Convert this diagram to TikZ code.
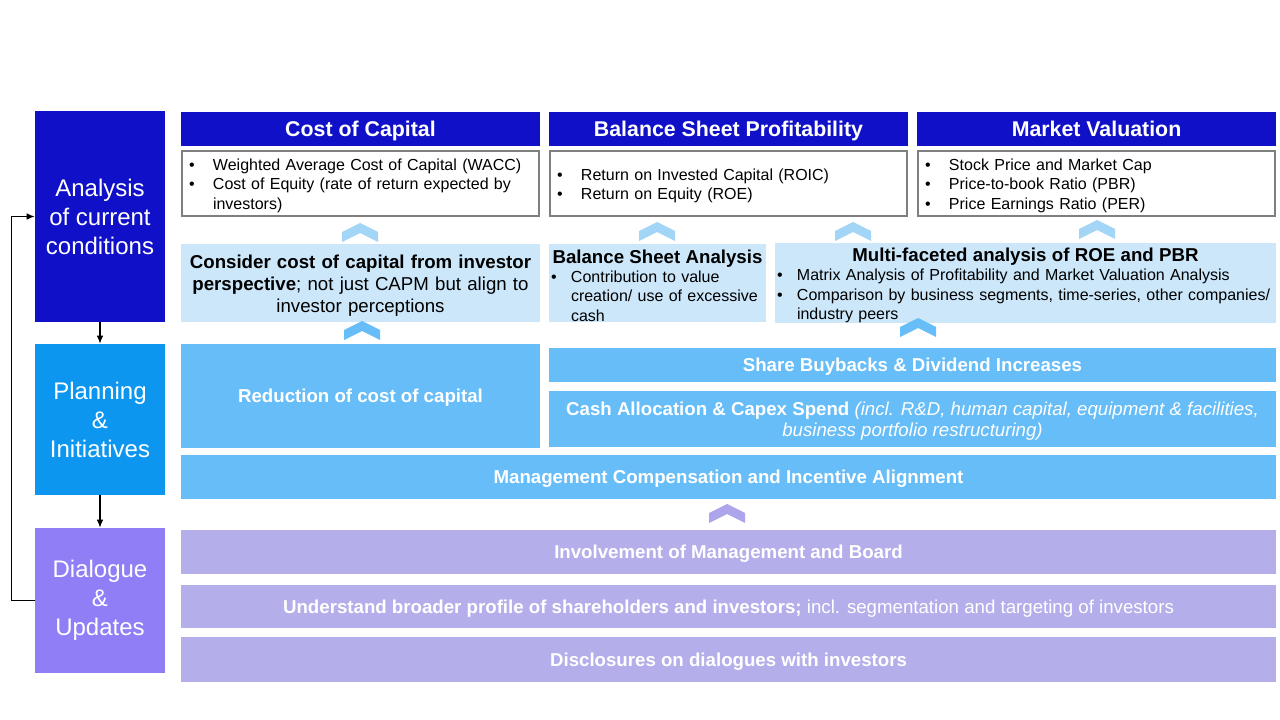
\documentclass[tikz,border=0pt]{standalone}
\usepackage{fontspec}
\setmainfont{Liberation Sans}
\usetikzlibrary{arrows.meta,positioning}
\definecolor{DeepBlue}{HTML}{1010C8}
\definecolor{Azure}{HTML}{0C96EF}
\definecolor{Violet}{HTML}{8F7EF5}
\definecolor{PaleBlue}{HTML}{CCE7FA}
\definecolor{MidBlue}{HTML}{66BDF8}
\definecolor{Lilac}{HTML}{B4AFEA}
\definecolor{ChevBlue}{HTML}{A3D5F7}
\definecolor{ChevLilac}{HTML}{ACA5EC}
\definecolor{Frame}{HTML}{7F7F7F}
\newlength{\bulind}
\newcommand{\bl}[1]{\makebox[\bulind][l]{\textbullet}\mbox{#1}}
\newcommand{\cl}[1]{\hspace*{\bulind}\mbox{#1}}
\newcommand{\upchev}[3]{%
  \fill[#3] (#1-18,#2+9) -- (#1,#2) -- (#1+18,#2+9) -- (#1+18,#2+19)
    -- (#1,#2+10) -- (#1-18,#2+19) -- cycle;
}

\begin{document}
\begin{tikzpicture}[x=0.75pt,y=-0.75pt,
    sz/.style 2 args={minimum width=#1*0.75pt,minimum height=#2*0.75pt},
    stage/.style={fill=#1,text=white,align=center,inner sep=0pt,
      font=\fontsize{18}{21.75}\selectfont},
    head/.style={fill=DeepBlue,text=white,inner sep=0pt,text depth=0pt,
      font=\fontsize{16}{19}\selectfont\bfseries},
    metric/.style={draw=Frame,line width=1.9pt,fill=white,align=left,
      inner ysep=0pt,inner xsep=5.25pt,text width=257.25pt,
      font=\fontsize{12}{14.6}\selectfont,
      execute at begin node={\rule{0pt}{12pt}\setlength{\bulind}{18pt}}},
    probe/.style={fill=PaleBlue,align=left,inner ysep=0pt,inner xsep=1.5pt,
      font=\fontsize{12}{14.6}\selectfont,
      execute at begin node={\rule{0pt}{14pt}\setlength{\bulind}{15pt}}},
    bar/.style={fill=#1,text=white,align=center,inner sep=0pt,text depth=0pt,
      font=\fontsize{14}{15.75}\selectfont\bfseries},
    flow/.style={-{Latex[length=6pt,width=5pt]},line width=1pt,black}]

  \useasboundingbox[fill=white] (0,0) rectangle (1280,720);

  % stages on the left
  \node[stage=DeepBlue,sz={130}{211}] (analysis) at (100,216.5)
    {Analysis\\of current\\conditions};
  \node[stage=Azure,sz={130}{151}] (planning) at (100,419.5)
    {Planning\\\&\\Initiatives};
  \node[stage=Violet,sz={130}{145}] (dialogue) at (100,600.5)
    {Dialogue\\\&\\Updates};

  \draw[flow] (analysis.south) -- (planning.north);
  \draw[flow] (planning.south) -- (dialogue.north);
  \draw[flow] (dialogue.west) -- ++(-23,0) |- (analysis.west);

  % headline metrics
  \node[head,sz={359}{34}] (costhead) at (360.5,129) {Cost of Capital};
  \node[head,sz={359}{34}] (bshead) at (728.5,129) {Balance Sheet Profitability};
  \node[head,sz={359}{34}] (mkthead) at (1096.5,129) {Market Valuation};

  \node[metric,sz={357}{65}] (costlist) at (360.5,183.5)
    {\bl{Weighted Average Cost of Capital (WACC)}\\
     \bl{Cost of Equity (rate of return expected by}\\
     \cl{investors)}};
  \node[metric,sz={357}{65}] (bslist) at (728.5,183.5)
    {\bl{Return on Invested Capital (ROIC)}\\
     \bl{Return on Equity (ROE)}};
  \node[metric,sz={357}{65}] (mktlist) at (1096.5,183.5)
    {\bl{Stock Price and Market Cap}\\
     \bl{Price-to-book Ratio (PBR)}\\
     \bl{Price Earnings Ratio (PER)}};

  % analysis row
  \node[probe,sz={359}{78},align=center,text width=266.25pt,
        font=\fontsize{14}{16.5}\selectfont] (investor) at (360.5,283)
    {\textbf{Consider cost of capital from investor}\\
     \textbf{perspective}; not just CAPM but align to\\
     investor perceptions};
  \node[probe,sz={217}{78},text width=159.75pt] (bsanalysis) at (657.5,283)
    {\makebox[\hsize][c]{\fontsize{14}{16.5}\selectfont\bfseries Balance Sheet Analysis}\\
     \bl{Contribution to value}\\
     \cl{creation/ use of excessive}\\
     \cl{cash}};
  \node[probe,sz={501}{78},text width=372.75pt] (roepbr) at (1025.5,283)
    {\makebox[\hsize][c]{\fontsize{14}{16.5}\selectfont\bfseries Multi-faceted analysis of ROE and PBR}\\
     \bl{Matrix Analysis of Profitability and Market Valuation Analysis}\\
     \bl{Comparison by business segments, time-series, other companies/}\\
     \cl{industry peers}};

  \upchev{360}{223}{ChevBlue}
  \upchev{657}{222}{ChevBlue}
  \upchev{853}{222}{ChevBlue}
  \upchev{1097}{220}{ChevBlue}

  % planning rows
  \node[bar=MidBlue,sz={359}{104}] (costcut) at (360.5,396)
    {Reduction of cost of capital};
  \node[bar=MidBlue,sz={727}{34}] (buyback) at (912.5,365)
    {Share Buybacks \& Dividend Increases};
  \node[bar=MidBlue,sz={727}{56}] (capex) at (912.5,419)
    {Cash Allocation \& Capex Spend \textit{\mdseries(incl. R\&D, human capital, equipment \& facilities,}\\
     \textit{\mdseries business portfolio restructuring)}};
  \node[bar=MidBlue,sz={1095}{44}] (incentive) at (728.5,477)
    {Management Compensation and Incentive Alignment};

  \upchev{362}{321}{MidBlue}
  \upchev{918}{318}{MidBlue}

  % dialogue rows
  \upchev{727}{504}{ChevLilac}

  \node[bar=Lilac,sz={1095}{44}] (board) at (728.5,552)
    {Involvement of Management and Board};
  \node[bar=Lilac,sz={1095}{43}] (profile) at (728.5,606.5)
    {Understand broader profile of shareholders and investors;{\mdseries{} incl. segmentation and targeting of investors}};
  \node[bar=Lilac,sz={1095}{45}] (disclose) at (728.5,659.5)
    {Disclosures on dialogues with investors};
\end{tikzpicture}
\end{document}
